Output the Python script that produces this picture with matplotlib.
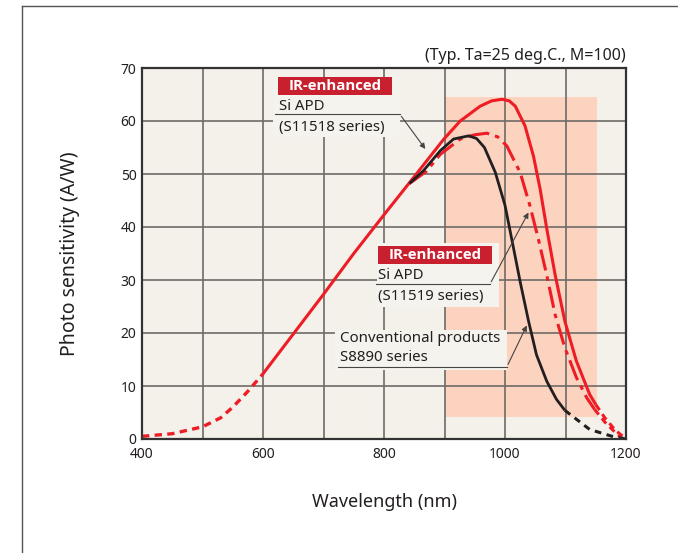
import matplotlib
matplotlib.use("Agg")
import matplotlib.pyplot as plt
from matplotlib.patches import Rectangle
from matplotlib.lines import Line2D

plt.rcParams['font.family'] = ['Noto Sans', 'DejaVu Sans']

# S11518 series (IR-enhanced Si APD), solid red, dashed at both ends
wl_11518_lo = [400, 450, 500, 530, 550, 575, 600]
s_11518_lo = [0.5, 1.0, 2.3, 4.0, 6.0, 9.0, 12.3]
wl_11518 = [600, 650, 700, 750, 800, 850, 899, 926, 959, 978, 995, 1007, 1017, 1033,
            1047, 1058, 1069, 1083, 1099, 1118, 1140, 1150]
s_11518 = [12.3, 19.8, 27.3, 35.0, 42.3, 49.5, 56.6, 60.0, 62.8, 63.8, 64.1, 63.8, 62.8, 59.1,
           53.4, 47.2, 39.7, 30.9, 22.2, 14.7, 8.4, 6.5]
wl_11518_hi = [1150, 1165, 1182, 1200]
s_11518_hi = [6.5, 4.0, 1.7, 0.0]

# S11519 series (IR-enhanced Si APD), red dash-dot
wl_11519 = [842, 870, 893, 926, 950, 970, 988, 1003, 1025, 1041, 1055, 1069, 1083,
            1099, 1118, 1135, 1148]
s_11519 = [48.2, 50.5, 53.7, 56.6, 57.4, 57.7, 57.0, 55.3, 50.3, 44.1, 37.8, 30.9, 23.4,
           17.2, 11.6, 7.8, 5.6]
wl_11519_hi = [1148, 1165, 1180, 1195]
s_11519_hi = [5.6, 3.2, 1.5, 0.0]

# S8890 series (conventional), black
wl_8890 = [842, 865, 893, 915, 940, 953, 966, 984, 1000, 1011, 1025, 1039, 1052, 1069, 1085, 1099]
s_8890 = [48.2, 50.6, 54.4, 56.6, 57.2, 56.7, 55.0, 50.3, 44.1, 37.8, 29.7, 22.2, 15.9, 10.9, 7.5, 5.4]
wl_8890_hi = [1099, 1140, 1180, 1200]
s_8890_hi = [5.4, 1.8, 0.4, 0.0]

x_ticks = [400, 600, 800, 1000, 1200]
y_ticks = [0, 10, 20, 30, 40, 50, 60, 70]

RED = '#ee1c25'
DARK = '#231f20'
BOXRED = '#c8202f'
BG = '#f4f1ea'
LABELBG = '#f5f3ed'

fig = plt.figure(figsize=(6.78, 5.53), dpi=100)
ax = fig.add_axes([142 / 678, 1 - 439 / 553, 484 / 678, 371 / 553])
ax.set_facecolor(BG)
ax.set_xlim(400, 1200)
ax.set_ylim(0, 70)

# shaded band
ax.add_patch(Rectangle((900, 4.1), 252, 60.5, facecolor='#fcd3bf', edgecolor='none', zorder=0.5))

# grid
for x in range(500, 1200, 100):
    ax.axvline(x, color='#6e6b68', lw=1.2, zorder=1)
for y in range(10, 70, 10):
    ax.axhline(y, color='#6e6b68', lw=1.2, zorder=1)

# label backgrounds
for (x0, y0, w, h) in [(616, 57.0, 210, 11.3), (788, 25.0, 202, 12.0), (719, 13.0, 285, 7.6)]:
    ax.add_patch(Rectangle((x0, y0), w, h, facecolor=LABELBG, edgecolor='none', zorder=2))

# curves
dash = (0, (2.2, 1.6))
ax.plot(wl_11518_lo, s_11518_lo, color=RED, lw=2.4, ls=dash, zorder=3)
ax.plot(wl_11518, s_11518, color=RED, lw=2.2, zorder=3, solid_capstyle='butt')
ax.plot(wl_11518_hi, s_11518_hi, color=RED, lw=2.2, ls=dash, zorder=3)
ax.plot(wl_8890, s_8890, color=DARK, lw=2.0, zorder=3.2, solid_capstyle='butt')
ax.plot(wl_8890_hi, s_8890_hi, color=DARK, lw=2.2, ls=(0, (2.2, 1.8)), zorder=3.2)
ax.plot(wl_11519, s_11519, color=RED, lw=2.2, ls=(0, (7, 2, 1.5, 2)), zorder=3.1)
ax.plot(wl_11519_hi, s_11519_hi, color=RED, lw=2.2, ls=dash, zorder=3.1)

# annotations
fs = 10.8
bold = dict(family=['Open Sans', 'DejaVu Sans'], fontweight='bold', fontsize=10.8)
arrow = dict(arrowstyle='-|>', color='#444', lw=0.8, mutation_scale=8)

ax.add_patch(Rectangle((625, 64.9), 188, 3.4, facecolor=BOXRED, edgecolor='none', zorder=4))
ax.text(719, 66.6, 'IR-enhanced', color='white', va='center', ha='center', zorder=5, **bold)
ax.text(627, 62.8, 'Si APD', color=DARK, fontsize=fs, va='center', ha='left', zorder=5)
ax.text(627, 58.7, '(S11518 series)', color=DARK, fontsize=fs, va='center', ha='left', zorder=5)
ax.plot([620, 826], [61.3, 61.3], color='#444', lw=0.8, zorder=4)
ax.annotate('', xy=(871, 54.3), xytext=(826, 61.3), arrowprops=arrow, zorder=4)

ax.add_patch(Rectangle((790, 33.0), 188, 3.4, facecolor=BOXRED, edgecolor='none', zorder=4))
ax.text(884, 34.7, 'IR-enhanced', color='white', va='center', ha='center', zorder=5, **bold)
ax.text(790, 30.9, 'Si APD', color=DARK, fontsize=fs, va='center', ha='left', zorder=5)
ax.text(790, 26.8, '(S11519 series)', color=DARK, fontsize=fs, va='center', ha='left', zorder=5)
ax.plot([787, 975], [29.2, 29.2], color='#444', lw=0.8, zorder=4)
ax.annotate('', xy=(1041, 43.2), xytext=(975, 29.2), arrowprops=arrow, zorder=4)

ax.text(727, 19.0, 'Conventional products', color=DARK, fontsize=fs, va='center', ha='left', zorder=5)
ax.text(727, 15.4, 'S8890 series', color=DARK, fontsize=fs, va='center', ha='left', zorder=5)
ax.plot([724, 1003], [13.6, 13.6], color='#444', lw=0.8, zorder=4)
ax.annotate('', xy=(1038, 21.9), xytext=(1003, 13.6), arrowprops=arrow, zorder=4)

ax.text(1.0, 1.01, '(Typ. Ta=25 deg.C., M=100)', transform=ax.transAxes,
        ha='right', va='bottom', fontsize=11.5, color=DARK)

ax.set_xticks(x_ticks)
ax.set_yticks(y_ticks)
ax.tick_params(length=0, labelsize=10, colors=DARK)
ax.tick_params(axis='x', pad=6)
ax.tick_params(axis='y', pad=4)
for sp in ax.spines.values():
    sp.set_color('#333')
    sp.set_linewidth(1.6)
    sp.set_zorder(6)

ax.set_xlabel('Wavelength (nm)', fontsize=13, color=DARK, labelpad=22)
ax.set_ylabel('Photo sensitivity (A/W)', fontsize=14, color=DARK, labelpad=29)

# outer frame
fig.add_artist(Line2D([22 / 678, 22 / 678], [0, 1 - 6 / 553], transform=fig.transFigure,
                      color='#555', lw=1.0))
fig.add_artist(Line2D([22 / 678, 1], [1 - 6 / 553, 1 - 6 / 553], transform=fig.transFigure,
                      color='#555', lw=1.0))

fig.savefig('out.png', dpi=100)
